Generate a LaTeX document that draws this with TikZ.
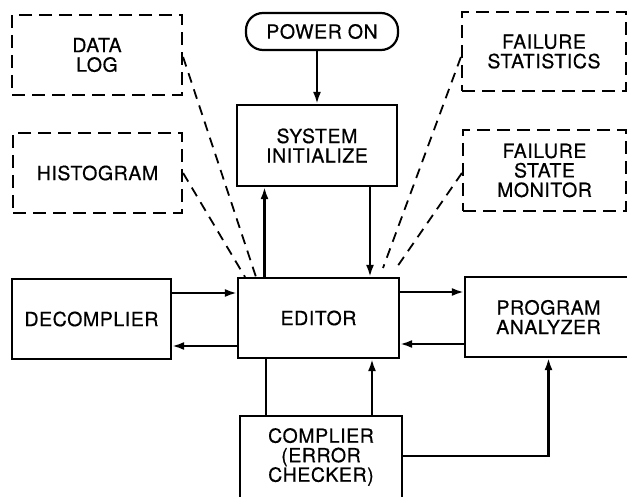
\documentclass[tikz,border=0pt]{standalone}
\usepackage{fontspec}
\setmainfont{TeX Gyre Heros}[LetterSpace=3, FakeBold=0.5]
\usetikzlibrary{arrows.meta}
\tikzset{
  blk/.style={draw, line width=2.2pt, align=center, inner sep=0pt},
  optbox/.style={blk, dash pattern=on 13pt off 7pt},
  term/.style={blk, rounded corners=17pt},
  arr/.style={line width=2.2pt, -{Latex[length=12pt,width=8pt]}},
  link/.style={line width=1.8pt, dash pattern=on 10pt off 7pt},
}

\begin{document}
\begin{tikzpicture}[x=1pt, y=-1pt, font=\fontsize{19.5}{19.5}\selectfont]
\fill[white](0,0) rectangle (627,497);
\useasboundingbox (0,0) rectangle (627,497);
% optional blocks (dashed)
\node[optbox, minimum width=170pt, minimum height=80pt] (datalog) at (97,55) {DATA\\LOG};
\node[optbox, minimum width=169pt, minimum height=80pt] (histo) at (97.5,173) {HISTOGRAM};
\node[optbox, minimum width=164pt, minimum height=79pt] (fstat) at (544,51.5) {FAILURE\\STATISTICS};
\node[optbox, minimum width=163pt, minimum height=81pt] (fmon) at (544.5,170.5) {FAILURE\\STATE\\MONITOR};
% main blocks
\node[term, minimum width=152pt, minimum height=37pt] (power) at (322,31.5) {POWER ON};
\node[blk, minimum width=160pt, minimum height=81pt] (sys) at (317,145.5) {SYSTEM\\INITIALIZE};
\node[blk, minimum width=159pt, minimum height=80pt] (decomp) at (91.5,319) {DECOMPLIER};
\node[blk, minimum width=161pt, minimum height=80pt] (editor) at (318.5,318) {EDITOR};
\node[blk, minimum width=167pt, minimum height=80pt] (pa) at (548.5,317) {PROGRAM\\ANALYZER};
\node[blk, minimum width=162pt, minimum height=82pt] (complier) at (321,457) {COMPLIER\\(ERROR\\CHECKER)};
% flow
\draw[arr](power.south -| sys.north)--(sys.north);
\draw[arr]([xshift=-54pt]editor.north)--([xshift=-54pt]editor.north |- sys.south);
\draw[arr]([xshift=53pt]sys.south)--([xshift=53pt]sys.south |- editor.north);
\draw[arr]([yshift=26pt]decomp.east)--([yshift=26pt]decomp.east -| editor.west);
\draw[arr]([yshift=-28pt]editor.west)--([yshift=-28pt]editor.west -| decomp.east);
\draw[arr]([yshift=26pt]editor.east)--([yshift=26pt]editor.east -| pa.west);
\draw[arr]([yshift=-27pt]pa.west)--([yshift=-27pt]pa.west -| editor.east);
\draw[line width=2.2pt]([xshift=-52.5pt]editor.south)--([xshift=-52.5pt]editor.south |- complier.north);
\draw[arr]([xshift=51pt]complier.north)--([xshift=51pt]complier.north |- editor.south);
\draw[arr]([yshift=1pt]complier.east)-|(pa.south);
% dashed links to the editor
\coordinate (dl) at (256,277);
\coordinate (hg) at (245,277);
\coordinate (fs) at (383,268);
\coordinate (fm) at (397,267);
\draw[link]([yshift=-2pt]datalog.east)--(dl);
\draw[link](histo.east)--(hg);
\draw[link]([yshift=-5.5pt]fstat.west)--(fs);
\draw[link]([yshift=-2.5pt]fmon.west)--(fm);
\end{tikzpicture}
\end{document}
